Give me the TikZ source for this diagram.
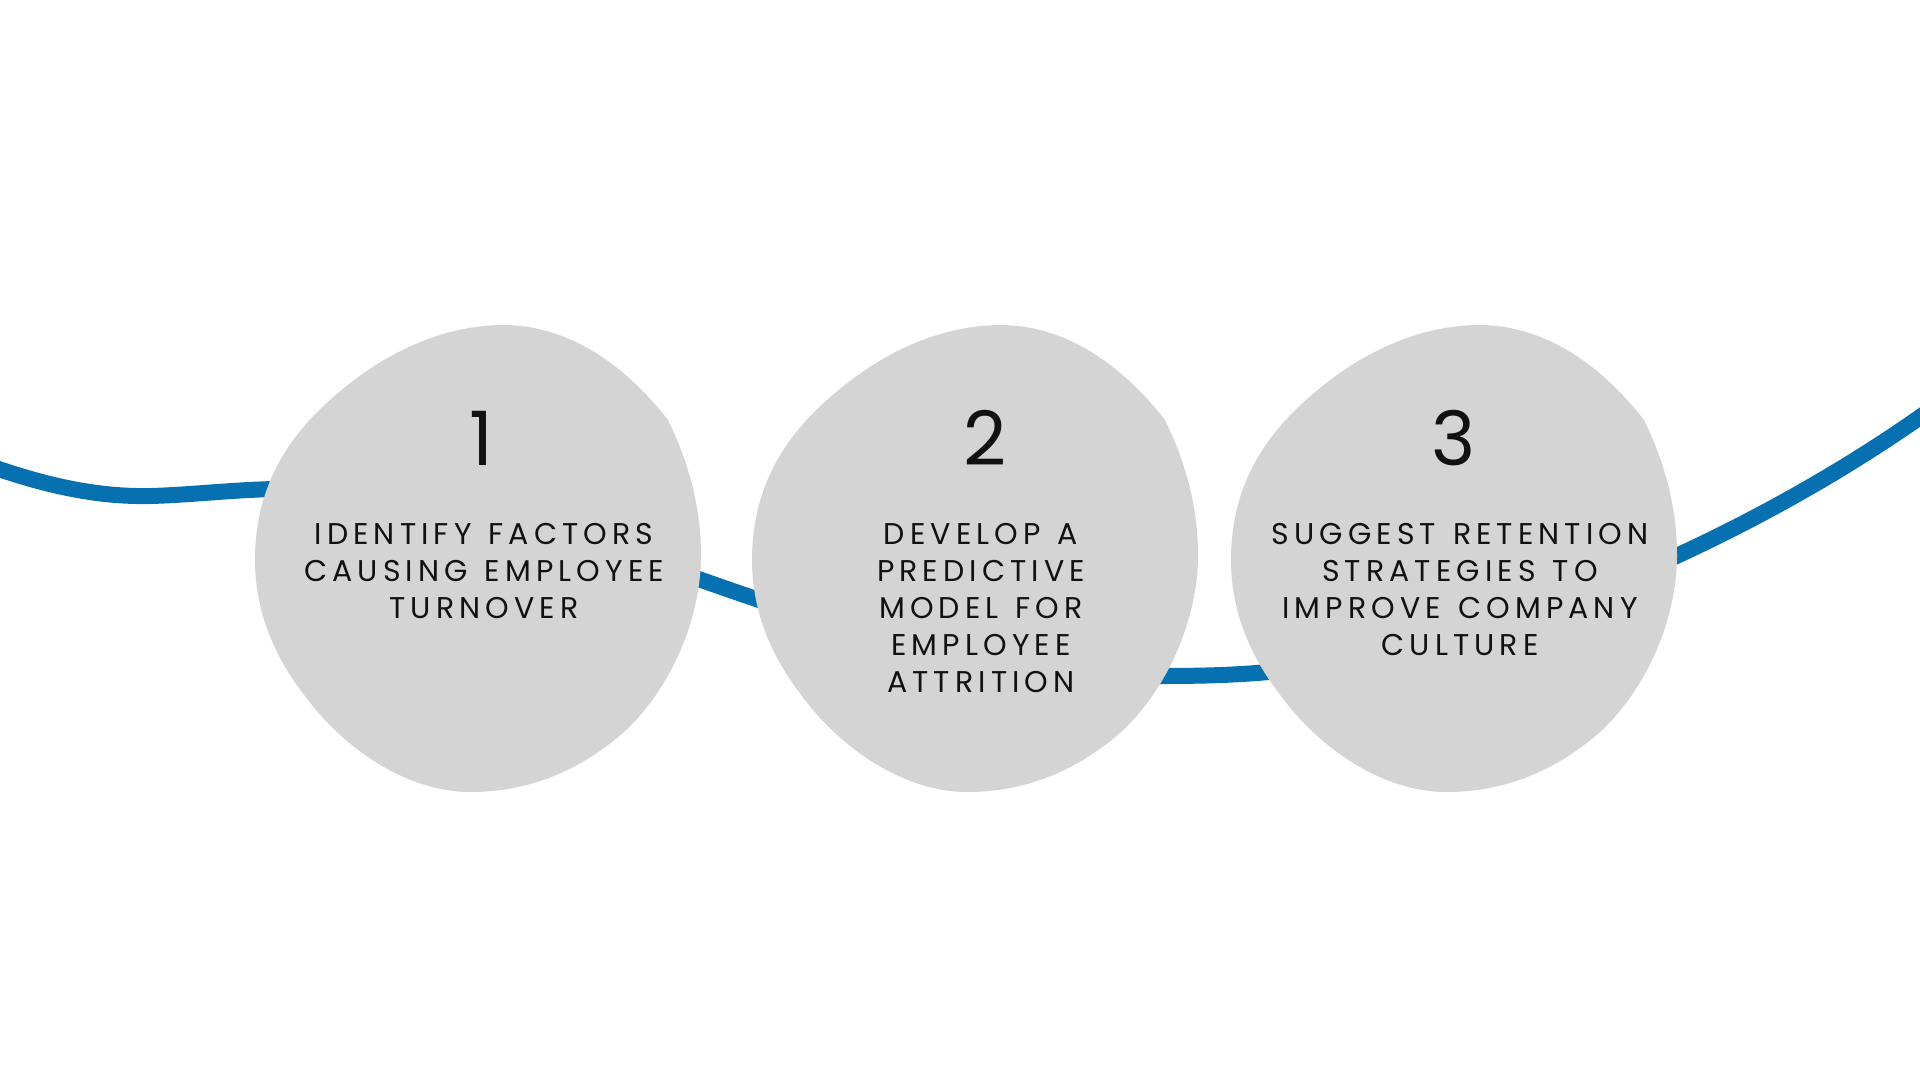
\documentclass[tikz,border=0pt]{standalone}
\usepackage{fontspec}
\newfontfamily\labelfont{Poppins}[LetterSpace=17,WordSpace=1.3]
\newfontfamily\numfont{Poppins}
\definecolor{blobgray}{HTML}{D4D4D4}
\definecolor{lineblue}{HTML}{0770B0}
\definecolor{ink}{HTML}{111111}
\tikzset{
  blob/.pic={\fill[blobgray]
    (668,420) .. controls (690,465) and (701,510) .. (701,555)
    .. controls (701,620) and (670,690) .. (623,733)
    .. controls (580,770) and (530,792) .. (470,792)
    .. controls (410,792) and (345,752) .. (302,692)
    .. controls (270,650) and (255,605) .. (255,560)
    .. controls (255,490) and (285,440) .. (330,400)
    .. controls (380,355) and (440,325) .. (505,325)
    .. controls (570,326) and (625,365) .. (668,420) -- cycle;},
  numlabel/.style={font=\numfont\fontsize{75}{78}\selectfont, text=ink, inner sep=0pt},
  steplabel/.style={font=\labelfont\fontsize{30}{37}\selectfont, text=ink, align=center, inner sep=0pt, anchor=north},
  flow/.style={lineblue, line width=16pt}
}
\begin{document}
\begin{tikzpicture}[x=1pt,y=-1pt]
\useasboundingbox (0,0) rectangle (1920,1080);
\fill[white] (0,0) rectangle (1920,1080);
% connector line behind blobs
\coordinate (s) at (-10,466);
\coordinate (e) at (1930,410);
\draw[flow] (s) .. controls (50,487) and (100,497) .. (150,496)
  .. controls (190,495) and (230,490) .. (275,489)
  .. controls (450,486) and (600,545) .. (730,590)
  .. controls (860,635) and (1000,676) .. (1160,676)
  .. controls (1220,676) and (1250,674) .. (1290,670)
  .. controls (1450,660) and (1720,560) .. (e);
% blobs
\pic (b1) at (0,0) {blob};
\pic (b2) at (497,0) {blob};
\pic (b3) at (976,0) {blob};
% numbers
\node[numlabel] (n1) at (481,438) {1};
\node[numlabel] (n2) at (985,438) {2};
\node[numlabel] (n3) at (1454,438) {3};
% step texts
\node[steplabel] (t1) at (484,523) {IDENTIFY FACTORS\\CAUSING EMPLOYEE\\TURNOVER};
\node[steplabel] (t2) at (981,523) {DEVELOP A\\PREDICTIVE\\MODEL FOR\\EMPLOYEE\\ATTRITION};
\node[steplabel] (t3) at (1460,523) {SUGGEST RETENTION\\STRATEGIES TO\\IMPROVE COMPANY\\CULTURE};
\end{tikzpicture}
\end{document}
